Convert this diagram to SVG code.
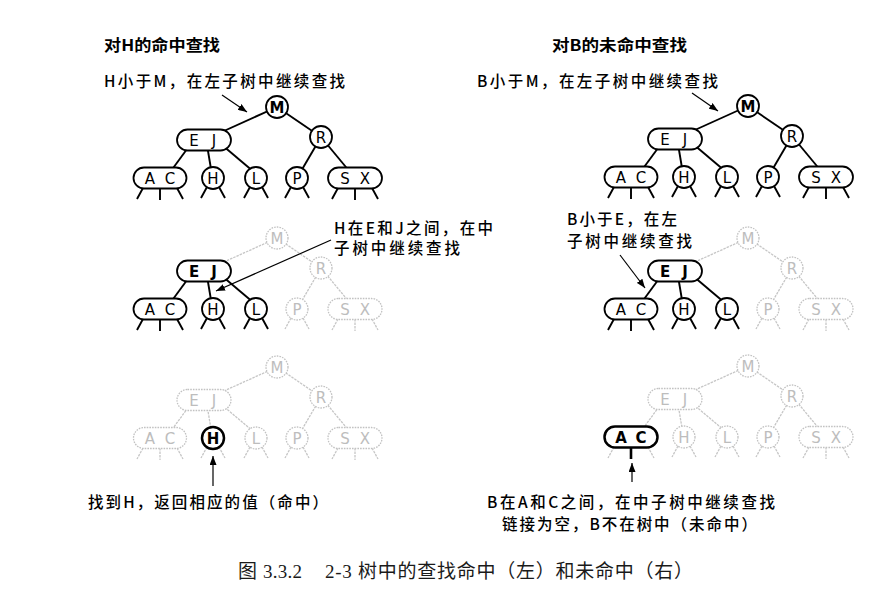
<svg xmlns="http://www.w3.org/2000/svg" width="887" height="593" viewBox="0 0 887 593">
<style>
.on circle,.on rect{fill:#fff;stroke:#000;stroke-width:1.8}
.off circle,.off rect{fill:#fff;stroke:#c2c2c2;stroke-width:1.3;stroke-dasharray:1.6 1.1}
.hi circle,.hi rect{stroke-width:2.5}
.nt{font-family:"DejaVu Sans",sans-serif;font-size:15px;text-anchor:middle}
.on .nt{fill:#000}
.off .nt{fill:#bdbdbd}
.b{font-weight:bold}
.ln{stroke:#000;stroke-width:1.9;fill:none}
.lf{stroke:#c6c6c6;stroke-width:1.3;fill:none;stroke-dasharray:2.5 1}
.lt{stroke:#000;stroke-width:2.6}
.ar{stroke:#000;stroke-width:1.2;fill:none;marker-end:url(#ah)}
.lab{font-family:"Noto Sans CJK SC","Liberation Sans",sans-serif;font-size:15.5px;font-weight:500;fill:#000}
.ttl{font-weight:bold}
.cap{font-family:"Liberation Serif","Noto Sans CJK SC",serif;font-size:19px;fill:#1a1a1a}
</style>
<defs>
<marker id="ah" markerUnits="userSpaceOnUse" markerWidth="9" markerHeight="7" refX="9" refY="3.5" orient="auto"><path d="M0,0 L9,3.5 L0,7 z" fill="#000"/></marker>
</defs>
<rect width="887" height="593" fill="#fff"/>

<!-- ===== Top-left tree ===== -->
<g id="tree-tl">
<g id="tl-connectors">
<line class="ln" x1="277" y1="107" x2="204" y2="140"/>
<line class="ln" x1="277" y1="107" x2="321" y2="137"/>
<line class="ln" x1="190" y1="145" x2="168" y2="175"/>
<line class="ln" x1="207" y1="145" x2="212" y2="175"/>
<line class="ln" x1="222" y1="145" x2="254" y2="172"/>
<line class="ln" x1="321" y1="137" x2="297" y2="178"/>
<line class="ln" x1="321" y1="137" x2="355" y2="178"/>
<path class="ln" d="M143,188L137,199M160,188L160,200M177,188L183,199M207,187L201,198M219,187L225,198M250,187L244,198M262,187L268,198M291,187L285,198M303,187L309,198M338,188L332,199M355,188L355,200M372,188L378,199"/>
</g>
<g id="tl-M" class="on"><circle cx="277" cy="107" r="11"/><text class="nt b" x="277" y="112.5">M</text></g>
<g id="tl-EJ" class="on"><rect x="177" y="129.5" width="54" height="21" rx="10.5"/><text class="nt" x="194" y="145.5">E</text><text class="nt" x="214" y="145.5">J</text></g>
<g id="tl-R" class="on"><circle cx="321" cy="137" r="11"/><text class="nt" x="321" y="142.5">R</text></g>
<g id="tl-AC" class="on"><rect x="133.5" y="167.5" width="53" height="21" rx="10.5"/><text class="nt" x="150" y="183.5">A</text><text class="nt" x="170" y="183.5">C</text></g>
<g id="tl-H" class="on"><circle cx="213" cy="178" r="11"/><text class="nt" x="213" y="183.5">H</text></g>
<g id="tl-L" class="on"><circle cx="256" cy="178" r="11"/><text class="nt" x="256" y="183.5">L</text></g>
<g id="tl-P" class="on"><circle cx="297" cy="178" r="11"/><text class="nt" x="297" y="183.5">P</text></g>
<g id="tl-SX" class="on"><rect x="328" y="167.5" width="54" height="21" rx="10.5"/><text class="nt" x="345" y="183.5">S</text><text class="nt" x="365" y="183.5">X</text></g>
</g>

<!-- ===== Top-right tree ===== -->
<g id="tree-tr" transform="translate(471,-1)">
<g id="tr-connectors">
<line class="ln" x1="277" y1="107" x2="204" y2="140"/>
<line class="ln" x1="277" y1="107" x2="321" y2="137"/>
<line class="ln" x1="190" y1="145" x2="168" y2="175"/>
<line class="ln" x1="207" y1="145" x2="212" y2="175"/>
<line class="ln" x1="222" y1="145" x2="254" y2="172"/>
<line class="ln" x1="321" y1="137" x2="297" y2="178"/>
<line class="ln" x1="321" y1="137" x2="355" y2="178"/>
<path class="ln" d="M143,188L137,199M160,188L160,200M177,188L183,199M207,187L201,198M219,187L225,198M250,187L244,198M262,187L268,198M291,187L285,198M303,187L309,198M338,188L332,199M355,188L355,200M372,188L378,199"/>
</g>
<g id="tr-M" class="on"><circle cx="277" cy="107" r="11"/><text class="nt b" x="277" y="112.5">M</text></g>
<g id="tr-EJ" class="on"><rect x="177" y="129.5" width="54" height="21" rx="10.5"/><text class="nt" x="194" y="145.5">E</text><text class="nt" x="214" y="145.5">J</text></g>
<g id="tr-R" class="on"><circle cx="321" cy="137" r="11"/><text class="nt" x="321" y="142.5">R</text></g>
<g id="tr-AC" class="on"><rect x="133.5" y="167.5" width="53" height="21" rx="10.5"/><text class="nt" x="150" y="183.5">A</text><text class="nt" x="170" y="183.5">C</text></g>
<g id="tr-H" class="on"><circle cx="213" cy="178" r="11"/><text class="nt" x="213" y="183.5">H</text></g>
<g id="tr-L" class="on"><circle cx="256" cy="178" r="11"/><text class="nt" x="256" y="183.5">L</text></g>
<g id="tr-P" class="on"><circle cx="297" cy="178" r="11"/><text class="nt" x="297" y="183.5">P</text></g>
<g id="tr-SX" class="on"><rect x="328" y="167.5" width="54" height="21" rx="10.5"/><text class="nt" x="345" y="183.5">S</text><text class="nt" x="365" y="183.5">X</text></g>
</g>

<!-- ===== Middle-left tree ===== -->
<g id="tree-ml" transform="translate(0,131)">
<g id="ml-connectors">
<line class="lf" x1="277" y1="107" x2="204" y2="140"/>
<line class="lf" x1="277" y1="107" x2="321" y2="137"/>
<line class="lf" x1="321" y1="137" x2="297" y2="178"/>
<line class="lf" x1="321" y1="137" x2="355" y2="178"/>
<path class="lf" d="M291,187L285,198M303,187L309,198M338,188L332,199M355,188L355,200M372,188L378,199"/>
<line class="ln" x1="190" y1="145" x2="168" y2="175"/>
<line class="ln" x1="207" y1="145" x2="212" y2="175"/>
<line class="ln" x1="222" y1="145" x2="254" y2="172"/>
<path class="ln" d="M143,188L137,199M160,188L160,200M177,188L183,199M207,187L201,198M219,187L225,198M250,187L244,198M262,187L268,198"/>
</g>
<g id="ml-M" class="off"><circle cx="277" cy="107" r="11"/><text class="nt" x="277" y="112.5">M</text></g>
<g id="ml-EJ" class="on"><rect x="177" y="129.5" width="54" height="21" rx="10.5"/><text class="nt b" x="194" y="145.5">E</text><text class="nt b" x="214" y="145.5">J</text></g>
<g id="ml-R" class="off"><circle cx="321" cy="137" r="11"/><text class="nt" x="321" y="142.5">R</text></g>
<g id="ml-AC" class="on"><rect x="133.5" y="167.5" width="53" height="21" rx="10.5"/><text class="nt" x="150" y="183.5">A</text><text class="nt" x="170" y="183.5">C</text></g>
<g id="ml-H" class="on"><circle cx="213" cy="178" r="11"/><text class="nt" x="213" y="183.5">H</text></g>
<g id="ml-L" class="on"><circle cx="256" cy="178" r="11"/><text class="nt" x="256" y="183.5">L</text></g>
<g id="ml-P" class="off"><circle cx="297" cy="178" r="11"/><text class="nt" x="297" y="183.5">P</text></g>
<g id="ml-SX" class="off"><rect x="328" y="167.5" width="54" height="21" rx="10.5"/><text class="nt" x="345" y="183.5">S</text><text class="nt" x="365" y="183.5">X</text></g>
</g>

<!-- ===== Middle-right tree ===== -->
<g id="tree-mr" transform="translate(471,131)">
<g id="mr-connectors">
<line class="lf" x1="277" y1="107" x2="204" y2="140"/>
<line class="lf" x1="277" y1="107" x2="321" y2="137"/>
<line class="lf" x1="321" y1="137" x2="297" y2="178"/>
<line class="lf" x1="321" y1="137" x2="355" y2="178"/>
<path class="lf" d="M291,187L285,198M303,187L309,198M338,188L332,199M355,188L355,200M372,188L378,199"/>
<line class="ln" x1="190" y1="145" x2="168" y2="175"/>
<line class="ln" x1="207" y1="145" x2="212" y2="175"/>
<line class="ln" x1="222" y1="145" x2="254" y2="172"/>
<path class="ln" d="M143,188L137,199M160,188L160,200M177,188L183,199M207,187L201,198M219,187L225,198M250,187L244,198M262,187L268,198"/>
</g>
<g id="mr-M" class="off"><circle cx="277" cy="107" r="11"/><text class="nt" x="277" y="112.5">M</text></g>
<g id="mr-EJ" class="on"><rect x="177" y="129.5" width="54" height="21" rx="10.5"/><text class="nt b" x="194" y="145.5">E</text><text class="nt b" x="214" y="145.5">J</text></g>
<g id="mr-R" class="off"><circle cx="321" cy="137" r="11"/><text class="nt" x="321" y="142.5">R</text></g>
<g id="mr-AC" class="on"><rect x="133.5" y="167.5" width="53" height="21" rx="10.5"/><text class="nt" x="150" y="183.5">A</text><text class="nt" x="170" y="183.5">C</text></g>
<g id="mr-H" class="on"><circle cx="213" cy="178" r="11"/><text class="nt" x="213" y="183.5">H</text></g>
<g id="mr-L" class="on"><circle cx="256" cy="178" r="11"/><text class="nt" x="256" y="183.5">L</text></g>
<g id="mr-P" class="off"><circle cx="297" cy="178" r="11"/><text class="nt" x="297" y="183.5">P</text></g>
<g id="mr-SX" class="off"><rect x="328" y="167.5" width="54" height="21" rx="10.5"/><text class="nt" x="345" y="183.5">S</text><text class="nt" x="365" y="183.5">X</text></g>
</g>

<!-- ===== Bottom-left tree ===== -->
<g id="tree-bl" transform="translate(0,260)">
<g id="bl-connectors">
<line class="lf" x1="277" y1="107" x2="204" y2="140"/>
<line class="lf" x1="277" y1="107" x2="321" y2="137"/>
<line class="lf" x1="190" y1="145" x2="168" y2="175"/>
<line class="lf" x1="207" y1="145" x2="212" y2="175"/>
<line class="lf" x1="222" y1="145" x2="254" y2="172"/>
<line class="lf" x1="321" y1="137" x2="297" y2="178"/>
<line class="lf" x1="321" y1="137" x2="355" y2="178"/>
<path class="lf" d="M143,188L137,199M160,188L160,200M177,188L183,199M207,187L201,198M219,187L225,198M250,187L244,198M262,187L268,198M291,187L285,198M303,187L309,198M338,188L332,199M355,188L355,200M372,188L378,199"/>
</g>
<g id="bl-M" class="off"><circle cx="277" cy="107" r="11"/><text class="nt" x="277" y="112.5">M</text></g>
<g id="bl-EJ" class="off"><rect x="177" y="129.5" width="54" height="21" rx="10.5"/><text class="nt" x="194" y="145.5">E</text><text class="nt" x="214" y="145.5">J</text></g>
<g id="bl-R" class="off"><circle cx="321" cy="137" r="11"/><text class="nt" x="321" y="142.5">R</text></g>
<g id="bl-AC" class="off"><rect x="133.5" y="167.5" width="53" height="21" rx="10.5"/><text class="nt" x="150" y="183.5">A</text><text class="nt" x="170" y="183.5">C</text></g>
<g id="bl-H" class="on hi"><circle cx="213" cy="178" r="11"/><text class="nt b" x="213" y="183.5">H</text></g>
<g id="bl-L" class="off"><circle cx="256" cy="178" r="11"/><text class="nt" x="256" y="183.5">L</text></g>
<g id="bl-P" class="off"><circle cx="297" cy="178" r="11"/><text class="nt" x="297" y="183.5">P</text></g>
<g id="bl-SX" class="off"><rect x="328" y="167.5" width="54" height="21" rx="10.5"/><text class="nt" x="345" y="183.5">S</text><text class="nt" x="365" y="183.5">X</text></g>
</g>

<!-- ===== Bottom-right tree ===== -->
<g id="tree-br" transform="translate(471,259)">
<g id="br-connectors">
<line class="lf" x1="277" y1="107" x2="204" y2="140"/>
<line class="lf" x1="277" y1="107" x2="321" y2="137"/>
<line class="lf" x1="190" y1="145" x2="168" y2="175"/>
<line class="lf" x1="207" y1="145" x2="212" y2="175"/>
<line class="lf" x1="222" y1="145" x2="254" y2="172"/>
<line class="lf" x1="321" y1="137" x2="297" y2="178"/>
<line class="lf" x1="321" y1="137" x2="355" y2="178"/>
<path class="lf" d="M143,188L137,199M177,188L183,199M207,187L201,198M219,187L225,198M250,187L244,198M262,187L268,198M291,187L285,198M303,187L309,198M338,188L332,199M355,188L355,200M372,188L378,199"/>
<line class="ln lt" x1="160" y1="188" x2="160" y2="200"/>
</g>
<g id="br-M" class="off"><circle cx="277" cy="107" r="11"/><text class="nt" x="277" y="112.5">M</text></g>
<g id="br-EJ" class="off"><rect x="177" y="129.5" width="54" height="21" rx="10.5"/><text class="nt" x="194" y="145.5">E</text><text class="nt" x="214" y="145.5">J</text></g>
<g id="br-R" class="off"><circle cx="321" cy="137" r="11"/><text class="nt" x="321" y="142.5">R</text></g>
<g id="br-AC" class="on hi"><rect x="133.5" y="167.5" width="53" height="21" rx="10.5"/><text class="nt b" x="150" y="183.5">A</text><text class="nt b" x="170" y="183.5">C</text></g>
<g id="br-H" class="off"><circle cx="213" cy="178" r="11"/><text class="nt" x="213" y="183.5">H</text></g>
<g id="br-L" class="off"><circle cx="256" cy="178" r="11"/><text class="nt" x="256" y="183.5">L</text></g>
<g id="br-P" class="off"><circle cx="297" cy="178" r="11"/><text class="nt" x="297" y="183.5">P</text></g>
<g id="br-SX" class="off"><rect x="328" y="167.5" width="54" height="21" rx="10.5"/><text class="nt" x="345" y="183.5">S</text><text class="nt" x="365" y="183.5">X</text></g>
</g>

<!-- ===== Annotation arrows ===== -->
<g id="arrows">
<line class="ar" x1="222" y1="95" x2="247" y2="112"/>
<line class="ar" x1="692" y1="93" x2="718" y2="111"/>
<line class="ar" x1="331" y1="240" x2="216" y2="291"/>
<line class="ar" x1="620" y1="255" x2="645" y2="288"/>
<line class="ar" x1="213" y1="486" x2="213" y2="456"/>
<line class="ar" x1="632" y1="482" x2="632" y2="463"/>
</g>

<!-- ===== Labels ===== -->
<g id="labels">
<text class="lab ttl" x="104" y="51" textLength="116" lengthAdjust="spacingAndGlyphs">对H的命中查找</text>
<text class="lab ttl" x="552" y="51" textLength="135" lengthAdjust="spacingAndGlyphs">对B的未命中查找</text>
<text class="lab" x="104" y="87" textLength="241" lengthAdjust="spacing">H小于M，在左子树中继续查找</text>
<text class="lab" x="477" y="87" textLength="241" lengthAdjust="spacing">B小于M，在左子树中继续查找</text>
<text class="lab" x="334" y="234" textLength="159" lengthAdjust="spacing">H在E和J之间，在中</text>
<text class="lab" x="334" y="254" textLength="126" lengthAdjust="spacing">子树中继续查找</text>
<text class="lab" x="567" y="225" textLength="110" lengthAdjust="spacing">B小于E，在左</text>
<text class="lab" x="567" y="247" textLength="125" lengthAdjust="spacing">子树中继续查找</text>
<text class="lab" x="88" y="508" textLength="240" lengthAdjust="spacing">找到H，返回相应的值（命中）</text>
<text class="lab" x="487" y="508" textLength="288" lengthAdjust="spacing">B在A和C之间，在中子树中继续查找</text>
<text class="lab" x="502" y="530" textLength="255" lengthAdjust="spacing">链接为空，B不在树中（未命中）</text>
</g>

<g id="caption">
<text class="cap" x="238" y="578">图</text>
<text class="cap" x="263" y="578" textLength="39" lengthAdjust="spacing">3.3.2</text>
<text class="cap" x="325" y="578" textLength="368" lengthAdjust="spacing">2-3 树中的查找命中（左）和未命中（右）</text>
</g>
</svg>
